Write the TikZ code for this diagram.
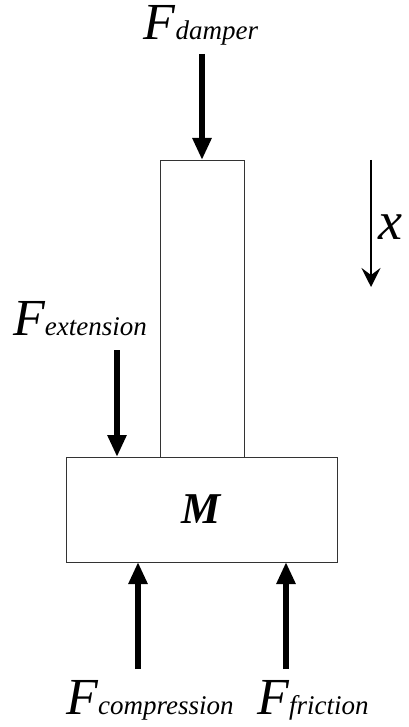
\documentclass[tikz,border=0pt]{standalone}
\usepackage{fontspec}
\setmainfont{Liberation Serif}
\usetikzlibrary{arrows.meta}
\newcommand{\Fsub}[1]{{\fontsize{52}{52}\selectfont\itshape F}{\fontsize{27}{27}\selectfont\itshape #1}}
\begin{document}
\begin{tikzpicture}[x=1pt,y=-1pt,
  body/.style={draw=black!80,line width=0.9pt,fill=white,inner sep=0pt,outer sep=0pt},
  force/.style={line width=6pt,-{Triangle[length=22pt,width=18pt]}},
  axis/.style={line width=2.7pt,-{Stealth[length=19pt,width=19pt,inset=7pt]}},
  flabel/.style={anchor=base,inner sep=0pt,text height=36pt,text depth=6pt}]
\useasboundingbox (0,0) rectangle (408,727);
% bodies
\node[body,minimum width=84pt,minimum height=297pt] (rod) at (202,308.5) {};
\node[body,minimum width=271pt,minimum height=105pt] (mass) at (201.5,509.5)
  {\fontsize{44}{44}\selectfont\bfseries\itshape M};
% labels
\node[flabel] (ldamp) at (201,40) {\Fsub{damper}};
\node[flabel] (lext) at (80,335) {\Fsub{extension}};
\node[flabel] (lcomp) at (150,714) {\Fsub{compression}};
\node[flabel] (lfric) at (313,714) {\Fsub{friction}};
\node[anchor=base west,inner sep=0pt,text height=25pt,text depth=0pt] (lx) at (378,240) {\fontsize{54}{54}\selectfont\itshape x};
% arrow ends
\coordinate (td) at (202,54);
\coordinate (te) at (117,350);
\coordinate (he) at (117,457);
\coordinate (tc) at (138,669);
\coordinate (hc) at (138,562);
\coordinate (tf) at (286,669);
\coordinate (hf) at (286,562);
\coordinate (xa) at (371,160);
\coordinate (xb) at (371,287);
% arrows
\draw[force] (td) -- (rod.north);
\draw[force] (te) -- (he);
\draw[force] (tc) -- (hc);
\draw[force] (tf) -- (hf);
\draw[axis] (xa) -- (xb);
\end{tikzpicture}
\end{document}
